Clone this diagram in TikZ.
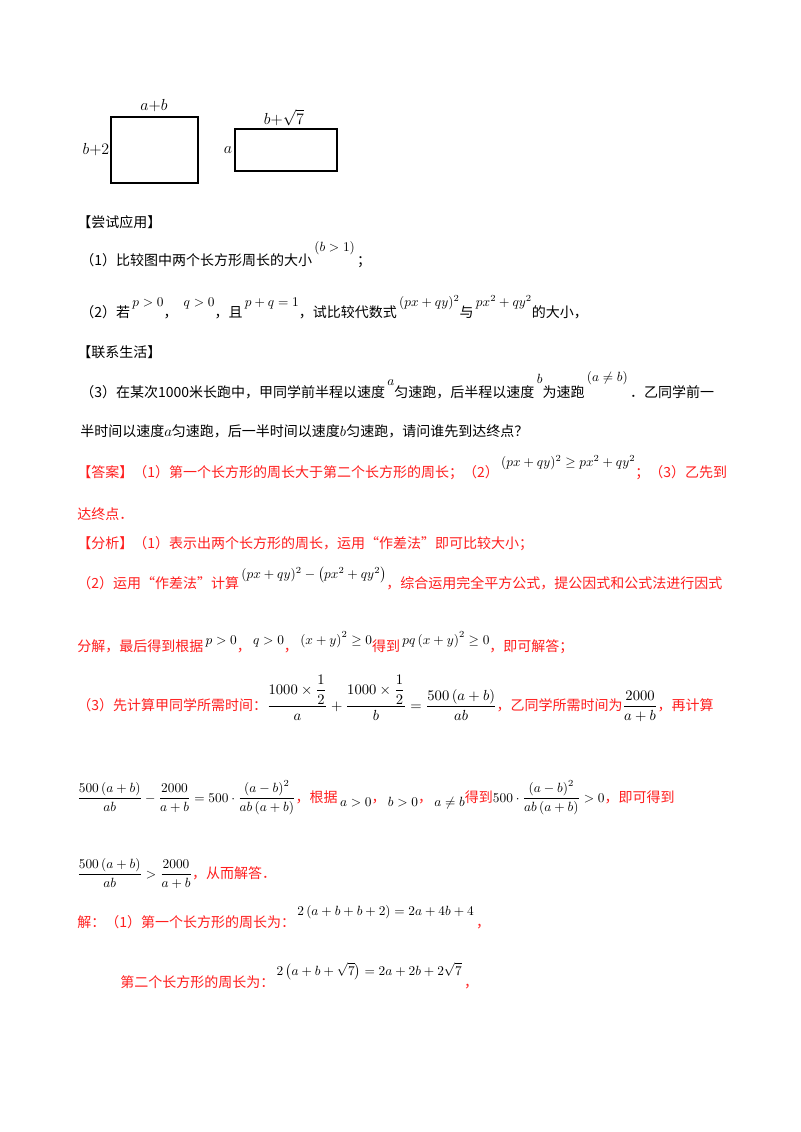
\documentclass[tikz,border=0pt]{standalone}
\usepackage{amsmath}
\usepackage{fontspec}
\newfontfamily\cjk{Noto Sans CJK SC}
\definecolor{ansred}{RGB}{255,30,30}
\newcommand{\rz}[2]{\,\raisebox{#1}{\fontsize{9.8}{11}\selectfont$#2$}}
\newcommand{\fr}[1]{\textcolor{black}{\fontsize{11}{13}\selectfont$#1$}}
\newcommand{\frs}[1]{\textcolor{black}{\fontsize{10}{12}\selectfont$#1$}}
\newcommand{\bk}[1]{\textcolor{black}{#1}}
\begin{document}
\begin{tikzpicture}[x=0.75pt,y=-0.75pt,
  txt/.style={anchor=base west,inner sep=0pt,font=\cjk\fontsize{10.5}{12}\selectfont},
  red/.style={txt,text=ansred},
  lab/.style={inner sep=0pt,font=\fontsize{11.5}{13}\selectfont}]
\useasboundingbox (0,0) rectangle (800,1132);
\fill[white] (0,0) rectangle (800,1132);
% rectangles
\draw[line width=0.9pt] (111,117) rectangle (198,183);
\draw[line width=0.9pt] (235,129) rectangle (337,171);
\node[lab] (l1) at (154,106) {$a{+}b$};
\node[lab] (l2) at (96,150) {$b{+}2$};
\node[lab] (l3) at (284,118) {$b{+}\sqrt{7}$};
\node[lab] (l4) at (228,150) {$a$};
% text
\node[txt] (t1) at (77,227) {【尝试应用】};
\node[txt] (t2) at (80,265) {（1）比较图中两个长方形周长的大小\rz{10pt}{(b>1)}\,；};
\node[txt] (t3) at (80,317) {（2）若\rz{8pt}{p>0}，\;\rz{8pt}{q>0}，且\rz{8pt}{p+q=1}，试比较代数式\rz{8pt}{(px+qy)^2}与\rz{8pt}{px^2+qy^2}的大小，};
\node[txt] (t4) at (77,357) {【联系生活】};
\node[txt] (t5) at (80,397) {（3）在某次1000米长跑中，甲同学前半程以速度\rz{9pt}{a}匀速跑，后半程以速度\rz{10pt}{b}为速跑\rz{12pt}{(a\neq b)}\,．乙同学前一};
\node[txt] (t6) at (80,436) {半时间以速度$a$匀速跑，后一半时间以速度$b$匀速跑，请问谁先到达终点？};
\node[red] (t7) at (77,477) {【答案】（1）第一个长方形的周长大于第二个长方形的周长；（2）\bk{\rz{8pt}{(px+qy)^2\ge px^2+qy^2}}；（3）乙先到};
\node[red] (t8) at (77,519) {达终点．};
\node[red] (t9) at (77,548) {【分析】（1）表示出两个长方形的周长，运用“作差法”即可比较大小；};
\node[red] (t10) at (77,588) {（2）运用“作差法”计算\bk{\rz{7pt}{(px+qy)^2-\left(px^2+qy^2\right)}}，综合运用完全平方公式，提公因式和公式法进行因式};
\node[red] (t11) at (77,651) {分解，最后得到根据\bk{\rz{5pt}{p>0}}，\bk{\rz{5pt}{q>0}}，\bk{\rz{5pt}{\left(x+y\right)^2\ge0}}得到\bk{\rz{5pt}{pq\left(x+y\right)^2\ge0}}，即可解答；};
\node[red] (t12) at (77,710) {（3）先计算甲同学所需时间：\fr{\dfrac{1000\times\dfrac{1}{2}}{a}+\dfrac{1000\times\dfrac{1}{2}}{b}=\dfrac{500\left(a+b\right)}{ab}}，乙同学所需时间为\fr{\dfrac{2000}{a+b}}，再计算};
\node[red] (t13) at (77,802) {\frs{\dfrac{500\left(a+b\right)}{ab}-\dfrac{2000}{a+b}=500\cdot\dfrac{\left(a-b\right)^2}{ab\left(a+b\right)}}，根据\bk{\rz{-3pt}{a>0}}，\bk{\rz{-3pt}{b>0}}，\bk{\rz{-3pt}{a\neq b}}得到\frs{500\cdot\dfrac{\left(a-b\right)^2}{ab\left(a+b\right)}>0}，即可得到};
\node[red] (t14) at (77,878) {\frs{\dfrac{500\left(a+b\right)}{ab}>\dfrac{2000}{a+b}}，从而解答．};
\node[red] (t15) at (77,927) {解：（1）第一个长方形的周长为：\bk{\rz{9pt}{2\left(a+b+b+2\right)=2a+4b+4}}\,，};
\node[red] (t16) at (120,987) {第二个长方形的周长为：\bk{\rz{9pt}{2\left(a+b+\sqrt{7}\right)=2a+2b+2\sqrt{7}}}\,，};
\end{tikzpicture}
\end{document}
